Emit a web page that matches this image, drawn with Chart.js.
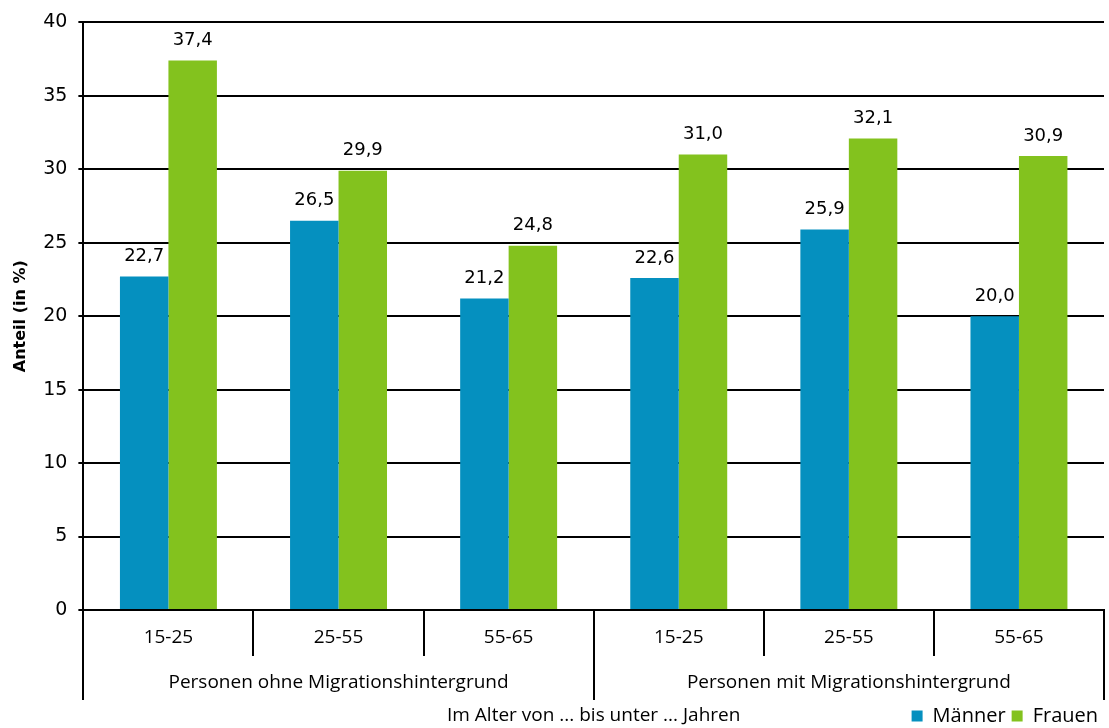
<!DOCTYPE html>
<html>
<head>
<meta charset="utf-8">
<script src="https://cdn.jsdelivr.net/npm/chart.js@4/dist/chart.umd.min.js"></script>
<style>
  html, body { margin: 0; padding: 0; background: #fff; }
  #wrap { width: 1109px; height: 728px; }
</style>
</head>
<body>
<div id="wrap"><canvas id="chart" width="1109" height="728"></canvas></div>
<script>
// --- Daten ---
const ages = ['15-25', '25-55', '55-65', '15-25', '25-55', '55-65'];
const groups = ['Personen ohne Migrationshintergrund', 'Personen mit Migrationshintergrund'];
const maenner = [22.7, 26.5, 21.2, 22.6, 25.9, 20.0];
const frauen = [37.4, 29.9, 24.8, 31.0, 32.1, 30.9];
const yTicks = [0, 5, 10, 15, 20, 25, 30, 35, 40];
const xTitle = 'Im Alter von ... bis unter ... Jahren';

const BLUE = '#0590bf';
const GREEN = '#83c21e';
const catFont = { family: 'Open Sans', size: 19 };

// Werte über den Balken (Komma als Dezimaltrenner)
const valueLabels = {
    id: 'valueLabels',
    afterDatasetsDraw(chart) {
        const ctx = chart.ctx;
        ctx.save();
        ctx.font = '18px "DejaVu Sans"';
        ctx.fillStyle = '#000';
        ctx.textAlign = 'center';
        ctx.textBaseline = 'bottom';
        chart.data.datasets.forEach((ds, di) => {
            chart.getDatasetMeta(di).data.forEach((bar, i) => {
                ctx.fillText(ds.data[i].toFixed(1).replace('.', ','), bar.x, bar.y - 11);
            });
        });
        ctx.restore();
    }
};

// Zweistufige Kategorienbeschriftung + Achsentitel neben der Legende
const axisLabels = {
    id: 'axisLabels',
    afterDraw(chart) {
        const ctx = chart.ctx;
        const x = chart.scales.x, x2 = chart.scales.x2, lg = chart.legend;
        ctx.save();
        ctx.fillStyle = '#000';
        ctx.textAlign = 'center';
        ctx.textBaseline = 'middle';
        ctx.font = `${catFont.size}px "${catFont.family}"`;
        ages.forEach((a, i) => ctx.fillText(a, x.getPixelForValue(i), x.top + 28));
        groups.forEach((g, i) => ctx.fillText(g, x2.getPixelForValue(i), x2.top + 27));
        ctx.font = `19px "${catFont.family}"`;
        const area = chart.chartArea;
        ctx.fillText(xTitle, (area.left + area.right) / 2, lg.top + lg.options.labels.padding + 10);
        ctx.restore();
    }
};

const ctx = document.getElementById('chart').getContext('2d');
new Chart(ctx, {
    type: 'bar',
    data: {
        labels: ages,
        datasets: [
            { label: 'Männer', data: maenner, backgroundColor: BLUE, borderWidth: 0 },
            { label: 'Frauen', data: frauen, backgroundColor: GREEN, borderWidth: 0 }
        ]
    },
    options: {
        responsive: false,
        animation: false,
        layout: { padding: { top: 14, right: 5, left: 0, bottom: -8 } },
        datasets: { bar: { categoryPercentage: 0.57, barPercentage: 1.0 } },
        plugins: {
            tooltip: { enabled: false },
            legend: {
                position: 'bottom',
                align: 'end',
                labels: {
                    boxWidth: 11, boxHeight: 11, padding: 6,
                    color: '#000', font: { family: 'Open Sans', size: 20 }
                }
            }
        },
        scales: {
            x: {
                type: 'category',
                offset: true,
                grid: { offset: true, drawOnChartArea: false, drawTicks: true, tickLength: 46, color: '#000', lineWidth: 2 },
                border: { display: true, color: '#000', width: 2 },
                ticks: { display: false }
            },
            x2: {
                type: 'category',
                position: 'bottom',
                labels: groups,
                offset: true,
                grid: { offset: true, drawOnChartArea: false, drawTicks: true, tickLength: 44, color: '#000', lineWidth: 2 },
                border: { display: false },
                ticks: { display: false }
            },
            y: {
                min: 0,
                max: 40,
                afterBuildTicks: (scale) => { scale.ticks = yTicks.map(v => ({ value: v })); },
                grid: { color: '#000', lineWidth: 2, tickLength: 5 },
                border: { display: true, color: '#000', width: 2 },
                ticks: { color: '#000', font: { family: 'DejaVu Sans', size: 19 }, padding: 11 },
                title: {
                    display: true,
                    text: 'Anteil (in %)',
                    color: '#000',
                    font: { family: 'DejaVu Sans', size: 16, weight: 'bold' },
                    padding: { top: 11, bottom: 2 }
                }
            }
        }
    },
    plugins: [valueLabels, axisLabels]
});
</script>
</body>
</html>
